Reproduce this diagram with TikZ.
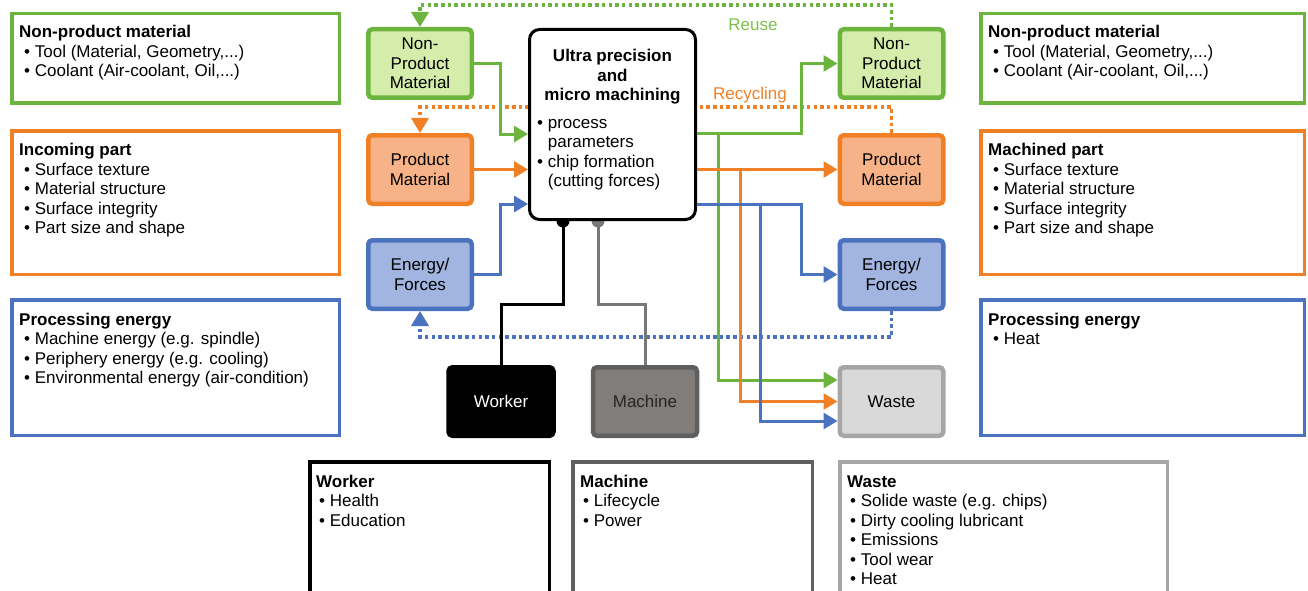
\documentclass[tikz,border=0pt]{standalone}
\usepackage{fontspec}
\setmainfont{Liberation Sans}
\usetikzlibrary{arrows.meta,backgrounds,calc}
\definecolor{gr}{RGB}{108,180,62}
\definecolor{grl}{RGB}{212,237,170}
\definecolor{grt}{RGB}{125,192,72}
\definecolor{orc}{RGB}{240,128,38}
\definecolor{orl}{RGB}{248,178,135}
\definecolor{blc}{RGB}{74,114,190}
\definecolor{bll}{RGB}{162,180,224}
\definecolor{mfill}{RGB}{128,125,123}
\definecolor{mdraw}{RGB}{95,95,95}
\definecolor{wfill}{RGB}{217,217,217}
\definecolor{wdraw}{RGB}{166,166,166}
\definecolor{mline}{RGB}{120,120,120}
\begin{document}
\begin{tikzpicture}[x=1pt,y=-1pt,
  every node/.style={font=\fontsize{17}{19.5}\selectfont},
  bigbox/.style={draw=#1, line width=3.5pt, inner sep=0pt, fill=white},
  smallbox/.style 2 args={draw=#1, fill=#2, line width=4.5pt, rounded corners=4pt,
     minimum width=103.5pt, minimum height=68.5pt, align=center, inner sep=0pt},
  txt/.style={anchor=base west, align=left, inner sep=0pt},
  conn/.style={draw=#1, line width=3pt},
  arr/.style={conn=#1, -{Triangle[length=14pt,width=16pt]}},
  dotc/.style={draw=#1, line width=3.5pt, dash pattern=on 3.5pt off 3.2pt,
     -{Triangle[length=15pt,width=17pt]}},
]
\clip (0,0) rectangle (1308,591);

% ---------- big description boxes (left) ----------
\node[bigbox=gr, minimum width=327.5pt, minimum height=89.5pt] (lnpbox) at (175.5,58.5) {};
\node[bigbox=orc, minimum width=327.5pt, minimum height=143.5pt] (linbox) at (175.5,202.5) {};
\node[bigbox=blc, minimum width=327.5pt, minimum height=135.5pt] (lenbox) at (175.5,367.5) {};
\node[txt] (lnptxt) at (19,77) {\textbf{Non-product material}\\\hspace*{5pt}• Tool (Material, Geometry,...)\\\hspace*{5pt}• Coolant (Air-coolant, Oil,...)};
\node[txt] (lintxt) at (19,233.5) {\textbf{Incoming part}\\\hspace*{5pt}• Surface texture\\\hspace*{5pt}• Material structure\\\hspace*{5pt}• Surface integrity\\\hspace*{5pt}• Part size and shape};
\node[txt] (lentxt) at (19,383.5) {\textbf{Processing energy}\\\hspace*{5pt}• Machine energy (e.g. spindle)\\\hspace*{5pt}• Periphery energy (e.g. cooling)\\\hspace*{5pt}• Environmental energy (air-condition)};

% ---------- big description boxes (right) ----------
\node[bigbox=gr, minimum width=323.5pt, minimum height=89.5pt] (rnpbox) at (1142.5,58.5) {};
\node[bigbox=orc, minimum width=323.5pt, minimum height=143.5pt] (rmabox) at (1142.5,202.5) {};
\node[bigbox=blc, minimum width=323.5pt, minimum height=135.5pt] (renbox) at (1142.5,367.5) {};
\node[txt] (rnptxt) at (988,77) {\textbf{Non-product material}\\\hspace*{5pt}• Tool (Material, Geometry,...)\\\hspace*{5pt}• Coolant (Air-coolant, Oil,...)};
\node[txt] (rmatxt) at (988,233.5) {\textbf{Machined part}\\\hspace*{5pt}• Surface texture\\\hspace*{5pt}• Material structure\\\hspace*{5pt}• Surface integrity\\\hspace*{5pt}• Part size and shape};
\node[txt] (rentxt) at (988,344.5) {\textbf{Processing energy}\\\hspace*{5pt}• Heat};

% ---------- bottom description boxes ----------
\node[bigbox=black, minimum width=239.5pt, minimum height=156.5pt] (wkbox) at (429.5,540) {};
\node[bigbox=mdraw, minimum width=239.5pt, minimum height=156.5pt] (mcbox) at (692.5,540) {};
\node[bigbox=wdraw, minimum width=327.5pt, minimum height=156.5pt] (wsbox) at (1003.5,540) {};
\node[txt] (wktxt) at (316,526) {\textbf{Worker}\\\hspace*{3pt}• Health\\\hspace*{3pt}• Education};
\node[txt] (mctxt) at (580,526) {\textbf{Machine}\\\hspace*{3pt}• Lifecycle\\\hspace*{3pt}• Power};
\node[txt] (wstxt) at (847,584.5) {\textbf{Waste}\\\hspace*{3pt}• Solide waste (e.g. chips)\\\hspace*{3pt}• Dirty cooling lubricant\\\hspace*{3pt}• Emissions\\\hspace*{3pt}• Tool wear\\\hspace*{3pt}• Heat};

% ---------- flow nodes ----------
\node[smallbox={gr}{grl}] (lnpm) at (420,63.5) {Non-\\Product\\Material};
\node[smallbox={orc}{orl}] (lpm) at (420,169.5) {Product\\Material};
\node[smallbox={blc}{bll}] (lef) at (420,274.5) {Energy/\\Forces};
\node[smallbox={gr}{grl}] (rnpm) at (891.5,63.5) {Non-\\Product\\Material};
\node[smallbox={orc}{orl}] (rpm) at (891.5,169.5) {Product\\Material};
\node[smallbox={blc}{bll}] (ref) at (891.5,274.5) {Energy/\\Forces};
\node[smallbox={wdraw}{wfill}] (waste) at (891.5,401.5) {Waste};
\node[smallbox={black}{black}, text=white, minimum width=105pt] (worker) at (501,401.5) {Worker};
\node[smallbox={mdraw}{mfill}, text=black!85, minimum width=104pt] (machine) at (645,401.5) {Machine};

% center process box
\node[draw=black, fill=white, line width=3pt, rounded corners=10pt,
      minimum width=166pt, minimum height=190pt, inner sep=0pt] (cbox) at (612.5,124.5) {};
\node[anchor=base, align=center, inner sep=0pt] (ctitle) at (612.5,101) {\textbf{Ultra precision}\\\textbf{and}\\\textbf{micro machining}};
\node[txt] (cbul) at (537,186.5) {• process\\\hphantom{• }parameters\\• chip formation\\\hphantom{• }(cutting forces)};

% labels
\node[text=grt, inner sep=0pt] (reuse) at (753,25) {Reuse};
\node[text=orc, inner sep=0pt] (recyc) at (750,95) {Recycling};

% helper coordinates
\coordinate (yg) at (0,134);
\coordinate (yb) at (0,204);
\coordinate (ygo) at (0,133);
\coordinate (ywg) at (0,380);
\coordinate (ywb) at (0,421);
\coordinate (xwk) at (563,304);
\coordinate (xmc) at (598,304);

% ---------- background: dotted return loops, worker/machine links ----------
\begin{scope}[on background layer]
  \draw[dotc=gr] (rnpm.north) -- ++(0,-22) -| (lnpm.north);
  \draw[dotc=orc] (rpm.north) -- ++(0,-26) -| (lpm.north);
  \draw[dotc=blc] (ref.south) -- ++(0,26) -| (lef.south);
  \draw[conn=black] (worker.north) |- (xwk) -- (xwk |- cbox.south);
  \fill[black] (xwk |- cbox.south) circle (6.5pt);
  \draw[conn=mline] (machine.north) |- (xmc) -- (xmc |- cbox.south);
  \fill[mline] (xmc |- cbox.south) circle (6.5pt);
\end{scope}

% ---------- inputs ----------
\draw[arr=gr] (lnpm.east) -- ++(26,0) |- (cbox.west |- yg);
\draw[arr=orc] (lpm.east) -- (cbox.west |- lpm.east);
\draw[arr=blc] (lef.east) -- ++(26,0) |- (cbox.west |- yb);

% ---------- outputs ----------
\draw[arr=gr] (cbox.east |- ygo) -- (801,133) |- (rnpm.west);
\draw[arr=gr] (718,133) |- (waste.west |- ywg);
\draw[arr=orc] (cbox.east |- rpm.west) -- (rpm.west);
\draw[arr=orc] (740,169.5) |- (waste.west);
\draw[arr=blc] (cbox.east |- yb) -- (801,204) |- (ref.west);
\draw[arr=blc] (760,204) |- (waste.west |- ywb);
\end{tikzpicture}
\end{document}
